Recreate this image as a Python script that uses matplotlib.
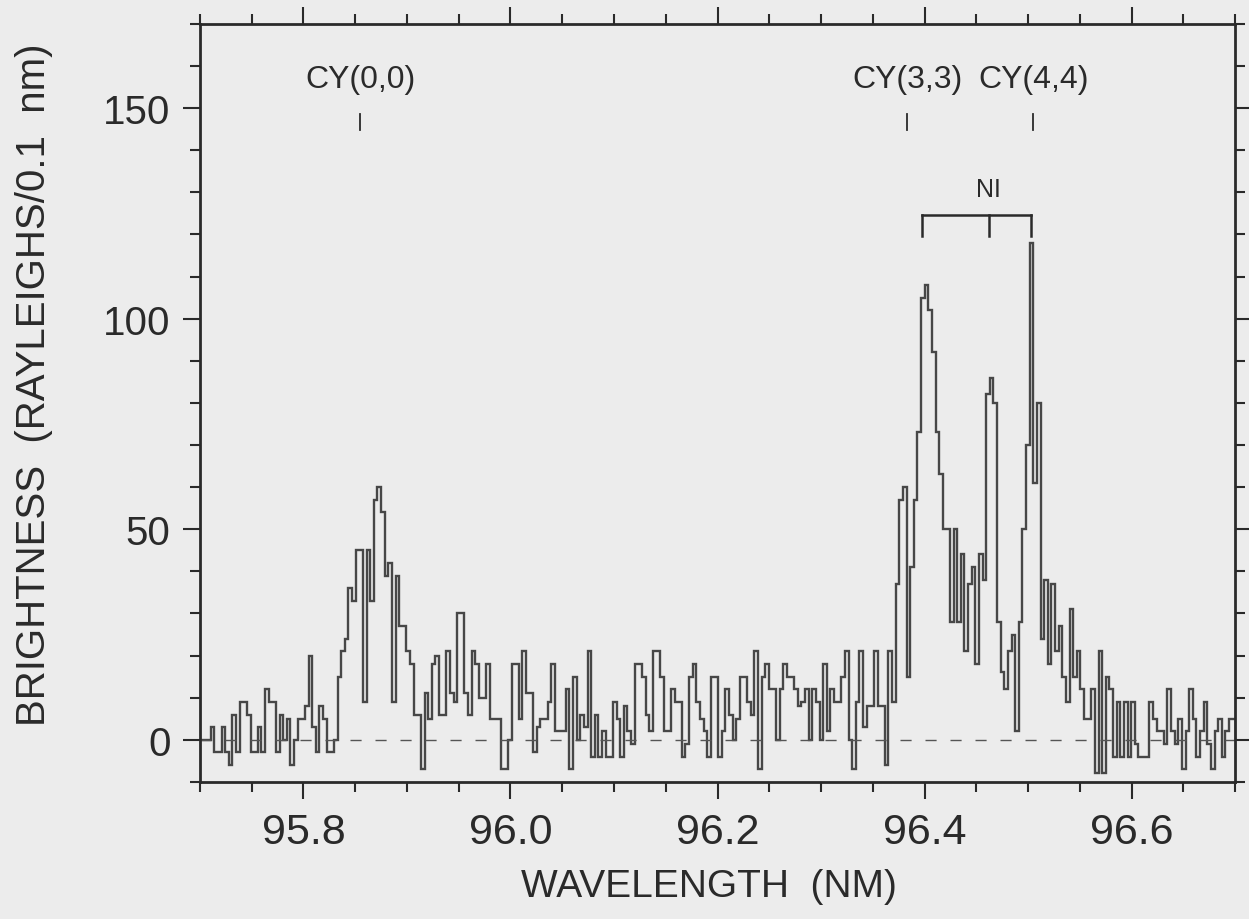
import numpy as np
import matplotlib.pyplot as plt
from matplotlib.ticker import MultipleLocator

plt.rcParams['font.family'] = ['Liberation Sans', 'DejaVu Sans']

# spectrum: brightness per wavelength bin
wl_start = 95.700
bin_width = 0.0035
brightness = [
    0, 0, 0, 3, -3, -3, 3, -3, -6, 6,
    -3, 9, 9, 6, -3, -3, 3, -3, 12, 9,
    9, -3, 6, 0, 5, -6, 0, 5, 5, 8,
    20, 3, -3, 8, 5, -3, -3, 0, 15, 21,
    24, 36, 33, 45, 45, 9, 45, 33, 57, 60,
    54, 39, 42, 9, 39, 27, 27, 21, 18, 6,
    6, -7, 11, 5, 18, 20, 6, 6, 21, 11,
    9, 30, 30, 11, 6, 21, 18, 10, 10, 18,
    5, 5, 5, -7, -7, 0, 18, 18, 5, 21,
    11, 11, -3, 3, 5, 5, 9, 18, 2, 2,
    2, 12, -7, 15, 0, 6, 3, 21, -4, 6,
    -4, 2, -4, -4, 9, 5, -4, 8, 2, -1,
    18, 18, 15, 6, 2, 21, 21, 15, 2, 2,
    12, 9, 9, -4, -1, 15, 18, 9, 5, 2,
    -4, 15, 15, -4, 2, 12, 6, 0, 5, 15,
    15, 9, 6, 21, -7, 15, 18, 12, 12, 0,
    12, 18, 15, 15, 12, 8, 9, 12, 0, 12,
    9, 0, 18, 2, 12, 9, 9, 15, 21, 0,
    -7, 9, 21, 3, 8, 8, 21, 8, 8, -6,
    21, 9, 37, 57, 60, 15, 41, 57, 73, 105,
    108, 102, 92, 73, 63, 50, 50, 28, 50, 28,
    44, 21, 37, 41, 18, 44, 38, 82, 86, 80,
    28, 16, 12, 21, 25, 2, 28, 50, 70, 118,
    61, 80, 24, 38, 18, 37, 21, 27, 15, 9,
    31, 15, 21, 12, 5, 5, 12, -8, 21, -8,
    15, 12, -4, 9, -4, 9, -4, 9, -1, -4,
    -4, -4, 9, 5, 2, 2, -1, 12, 2, -1,
    5, -7, 2, 12, 5, -4, 2, 9, -1, -7,
    2, 5, -4, 2, 5, 5,
]

cy_labels = ['CY(0,0)', 'CY(3,3)', 'CY(4,4)']
cy_wavelength = [95.855, 96.383, 96.505]
ni_wavelength = [96.397, 96.462, 96.503]

edges = wl_start + bin_width * np.arange(len(brightness) + 1)

paper = '#ececec'
ink = '#2a2a2a'

fig = plt.figure(figsize=(12.49, 9.20), dpi=100, facecolor=paper)
ax = fig.add_axes([0.160, 0.149, 0.829, 0.824])
ax.set_facecolor(paper)

ax.stairs(brightness, edges, color='#474747', lw=1.7)
ax.axhline(0, color='#555555', lw=1.0, dashes=(8, 10))

# band markers
for lab, wl in zip(cy_labels, cy_wavelength):
    ax.text(wl, 156.8, lab, ha='center', va='center', fontsize=23, color=ink)
    ax.plot([wl, wl], [144.7, 148.5], color=ink, lw=1.3)

# NI triplet bracket
ax.plot([ni_wavelength[0], ni_wavelength[-1]], [124.7, 124.7], color=ink, lw=1.8)
for wl in ni_wavelength:
    ax.plot([wl, wl], [119.7, 124.7], color=ink, lw=1.8)
ax.text(ni_wavelength[1], 130.8, 'NI', ha='center', va='center', fontsize=18, color=ink)

ax.set_xlim(95.7, 96.7)
ax.set_ylim(-10, 170)
ax.set_xticks(np.arange(95.8, 96.61, 0.2))
ax.set_xticklabels(['%.1f' % v for v in np.arange(95.8, 96.61, 0.2)])
ax.xaxis.set_minor_locator(MultipleLocator(0.05))
ax.set_yticks([0, 50, 100, 150])
ax.yaxis.set_minor_locator(MultipleLocator(10))

ax.tick_params(which='both', direction='out', top=True, right=True, color=ink, width=1.5)
ax.tick_params(which='major', length=12)
ax.tick_params(which='minor', length=7)
ax.tick_params(axis='x', labelsize=31, pad=10, labelcolor=ink)
ax.tick_params(axis='y', labelsize=29, pad=9, labelcolor=ink)
for s in ax.spines.values():
    s.set_linewidth(2.0)
    s.set_color(ink)

ax.set_xlabel('WAVELENGTH  (NM)', fontsize=28, color=ink)
ax.set_ylabel('BRIGHTNESS  (RAYLEIGHS/0.1  nm)', fontsize=29, color=ink)
ax.xaxis.set_label_coords(0.492, -0.113)
ax.yaxis.set_label_coords(-0.142, 0.525)

fig.savefig('out.png', dpi=100, facecolor=paper)
